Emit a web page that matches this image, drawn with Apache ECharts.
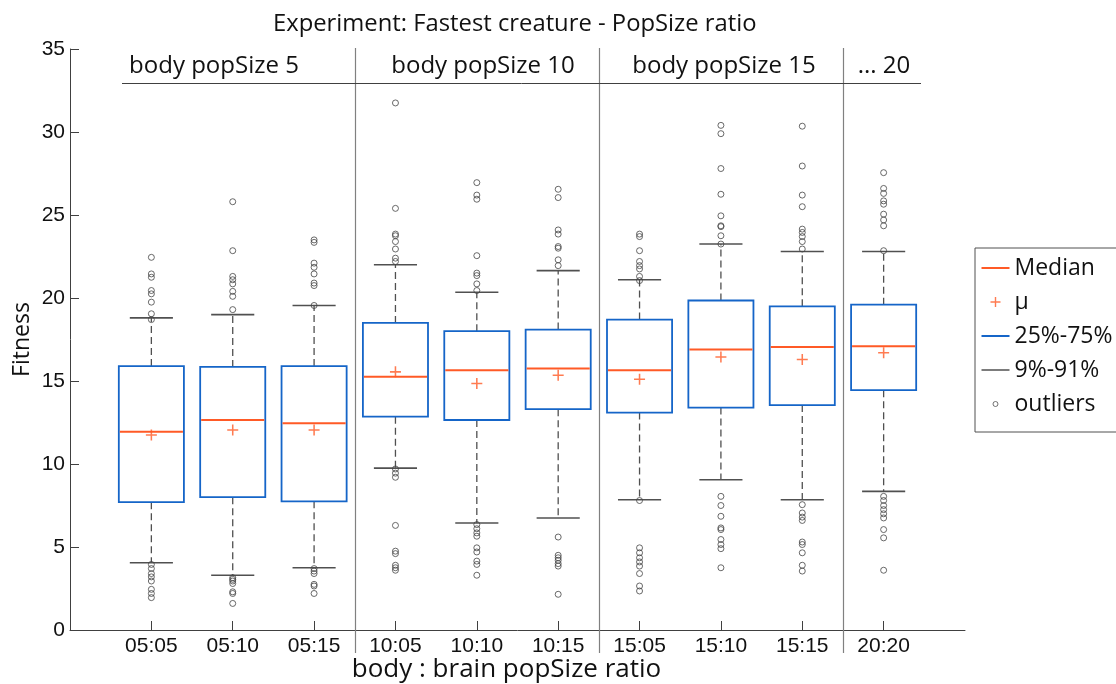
<!DOCTYPE html>
<html>
<head>
<meta charset="utf-8">
<script src="https://cdn.jsdelivr.net/npm/echarts@6/dist/echarts.min.js"></script>
<style>
  html, body { margin: 0; padding: 0; background: #fff; }
  #chart { width: 1116px; height: 684px; }
</style>
</head>
<body>
<div id="chart"></div>
<script>
// ---------------- DATA ----------------
const categories = ['05:05', '05:10', '05:15', '10:05', '10:10', '10:15', '15:05', '15:10', '15:15', '20:20'];
const groupLabels = ['body popSize 5', 'body popSize 10', 'body popSize 15', '... 20'];
const groupSizes = [3, 3, 3, 1];

const q1        = [7.70, 8.00, 7.75, 12.85, 12.65, 13.30, 13.10, 13.40, 13.55, 14.45];
const median    = [11.95, 12.65, 12.45, 15.25, 15.65, 15.75, 15.65, 16.90, 17.05, 17.10];
const q3        = [15.90, 15.85, 15.90, 18.50, 18.00, 18.10, 18.70, 19.85, 19.50, 19.60];
const mean      = [11.75, 12.05, 12.05, 15.55, 14.85, 15.35, 15.10, 16.45, 16.30, 16.70];
const whiskLow  = [4.05, 3.30, 3.75, 9.75, 6.45, 6.75, 7.85, 9.05, 7.85, 8.35];
const whiskHigh = [18.80, 19.00, 19.55, 22.00, 20.35, 21.65, 21.10, 23.25, 22.80, 22.80];

const outliers = [
  [22.45, 21.45, 21.25, 20.45, 20.25, 19.75, 19.05, 18.70, 3.95, 3.70, 3.40, 3.20, 2.95, 2.45, 2.20, 1.95],
  [25.80, 22.85, 21.30, 21.10, 20.85, 20.40, 20.10, 19.30, 3.15, 3.05, 2.95, 2.80, 2.30, 2.20, 1.60],
  [23.50, 23.35, 22.10, 21.85, 21.45, 20.90, 20.75, 19.55, 3.70, 3.55, 3.40, 2.75, 2.65, 2.20],
  [31.75, 25.40, 23.85, 23.75, 23.40, 22.95, 22.40, 22.20, 9.70, 9.45, 9.20, 6.30, 4.75, 4.60, 3.90, 3.75, 3.60],
  [26.95, 26.20, 25.95, 22.55, 21.50, 21.35, 20.85, 20.45, 6.35, 6.10, 5.85, 5.65, 4.95, 4.70, 4.15, 3.95, 3.30],
  [26.55, 26.05, 24.10, 23.85, 23.10, 23.00, 22.30, 21.95, 5.60, 4.50, 4.35, 4.20, 4.00, 3.85, 2.15],
  [23.85, 23.70, 22.85, 22.20, 21.95, 21.75, 21.30, 21.05, 7.80, 4.95, 4.65, 4.35, 4.10, 3.85, 3.40, 2.65, 2.35],
  [30.40, 29.90, 27.80, 26.25, 24.95, 24.35, 24.30, 23.75, 23.25, 8.05, 7.50, 6.85, 6.15, 6.05, 5.45, 5.15, 4.90, 3.75],
  [30.35, 27.95, 26.20, 25.50, 24.15, 23.95, 23.70, 23.40, 22.95, 7.55, 7.05, 6.80, 6.60, 5.30, 5.15, 4.65, 3.90, 3.55],
  [27.55, 26.60, 26.30, 25.85, 25.65, 25.05, 24.70, 24.35, 22.85, 8.05, 7.80, 7.50, 7.25, 7.00, 6.75, 6.05, 5.55, 3.60]
];

const yTicks = [0, 5, 10, 15, 20, 25, 30, 35];

// ---------------- STYLE / LAYOUT ----------------
const BLUE = '#1565C8';
const ORANGE = '#FF5A26';
const GRAY = '#505050';
const SEP = '#808080';
const BOX_W = 0.8;
const CAP_W = 0.53;

const boxData = categories.map((c, i) => [i + 1, q1[i], median[i], q3[i], whiskLow[i], whiskHigh[i]]);
const meanData = categories.map((c, i) => [i + 1, mean[i]]);
const outlierData = [];
outliers.forEach((arr, i) => arr.forEach(v => outlierData.push([i + 1, v])));
const sepData = [];
{ let acc = 0; for (let g = 0; g < groupSizes.length - 1; g++) { acc += groupSizes[g]; sepData.push([acc + 0.5]); } }

function crisp(v) { return Math.round(v) + 0.5; }

const chart = echarts.init(document.getElementById('chart'), null, { renderer: 'canvas' });

const option = {
  animation: false,
  backgroundColor: '#fff',
  title: {
    text: 'Experiment: Fastest creature - PopSize ratio',
    left: 268, top: 7,
    textStyle: { fontFamily: 'Open Sans', fontSize: 23.8, fontWeight: 'normal', color: '#111' }
  },
  grid: { left: 70, right: 151, top: 49, bottom: 54, containLabel: false, outerBoundsMode: 'none' },
  xAxis: {
    type: 'value', min: 0, max: 11,
    splitLine: { show: false },
    axisLine: { lineStyle: { color: '#404040', width: 1 } },
    axisTick: { inside: true, length: 9, customValues: categories.map((c, i) => i + 1), lineStyle: { color: '#404040' } },
    axisLabel: {
      customValues: categories.map((c, i) => i + 1),
      formatter: v => categories[Math.round(v) - 1] || '',
      fontFamily: 'Liberation Sans', fontSize: 21, color: '#111', margin: 6
    },
    name: 'body : brain popSize ratio', nameLocation: 'middle', nameGap: 27, nameMoveOverlap: false,
    nameTextStyle: { fontFamily: 'Open Sans', fontSize: 26, color: '#111', padding: [0, 22, 0, 0] }
  },
  yAxis: {
    type: 'value', min: 0, max: 35, interval: 5,
    splitLine: { show: false },
    axisLine: { show: true, lineStyle: { color: '#404040', width: 1 } },
    axisTick: { show: true, inside: true, length: 9, lineStyle: { color: '#404040' } },
    axisLabel: { fontFamily: 'Liberation Sans', fontSize: 21, color: '#111', margin: 5,
      formatter: v => yTicks.includes(v) ? String(v) : '' },
    name: 'Fitness', nameLocation: 'middle', nameRotate: 90, nameGap: 36, nameMoveOverlap: false,
    nameTextStyle: { fontFamily: 'Open Sans', fontSize: 23, color: '#111' }
  },
  legend: {
    orient: 'vertical', left: 975, top: 248,
    itemWidth: 28, itemHeight: 14, itemGap: 8,
    padding: [7, 60, 15, 6],
    borderColor: '#505050', borderWidth: 1, backgroundColor: '#fff',
    selectedMode: false,
    textStyle: { fontFamily: 'Open Sans', fontSize: 23, color: '#111', lineHeight: 26 },
    data: [
      { name: 'Median', icon: 'path://M0,0M28,14M0,6H28V8H0Z', itemStyle: { color: ORANGE, borderWidth: 0 } },
      { name: 'μ', icon: 'path://M0,0M28,14M9,6.3H19V7.7H9Z M13.3,2H14.7V12H13.3Z', itemStyle: { color: ORANGE, borderWidth: 0 } },
      { name: '25%-75%', icon: 'path://M0,0M28,14M0,6H28V8H0Z', itemStyle: { color: BLUE, borderWidth: 0 } },
      { name: '9%-91%', icon: 'path://M0,0M28,14M0,6.25H28V7.75H0Z', itemStyle: { color: GRAY, borderWidth: 0 } },
      { name: 'outliers', icon: 'path://M0,0M28,14M14,4.5A2.5,2.5 0 1,1 13.99,4.5Z', itemStyle: { color: 'rgba(0,0,0,0)', borderColor: GRAY, borderWidth: 1 } }
    ]
  },
  graphic: [
    { type: 'line', shape: { x1: 122, y1: 83.5, x2: 921, y2: 83.5 }, style: { stroke: '#404040', lineWidth: 1 }, z: 10 },
    { type: 'text', x: 214, y: 66, style: { text: groupLabels[0], align: 'center', verticalAlign: 'middle', font: '24px "Open Sans"', fill: '#111' }, z: 10 },
    { type: 'text', x: 483, y: 66, style: { text: groupLabels[1], align: 'center', verticalAlign: 'middle', font: '24px "Open Sans"', fill: '#111' }, z: 10 },
    { type: 'text', x: 724, y: 66, style: { text: groupLabels[2], align: 'center', verticalAlign: 'middle', font: '24px "Open Sans"', fill: '#111' }, z: 10 },
    { type: 'text', x: 884, y: 66, style: { text: groupLabels[3], align: 'center', verticalAlign: 'middle', font: '24px "Open Sans"', fill: '#111' }, z: 10 }
  ],
  series: [
    {
      name: 'separators', type: 'custom', silent: true, data: sepData,
      encode: { x: 0 },
      renderItem: (params, api) => {
        const x = api.value(0);
        const top = api.coord([x, 35]);
        const bot = api.coord([x, 0]);
        const px = crisp(top[0]);
        return { type: 'line', shape: { x1: px, y1: top[1] - 1, x2: px, y2: bot[1] + 23 }, style: { stroke: SEP, lineWidth: 1.2 } };
      }
    },
    {
      name: '9%-91%', type: 'custom', data: boxData, itemStyle: { color: GRAY },
      encode: { x: 0, y: [1, 2, 3, 4, 5] },
      renderItem: (params, api) => {
        const x = api.value(0);
        const pQ1 = api.coord([x, api.value(1)]);
        const pQ3 = api.coord([x, api.value(3)]);
        const pLo = api.coord([x, api.value(4)]);
        const pHi = api.coord([x, api.value(5)]);
        const cw = api.size([CAP_W, 0])[0];
        const cx = pQ1[0];
        const dashed = { stroke: GRAY, lineWidth: 1.3, lineDash: [7, 4], fill: null };
        const solid = { stroke: GRAY, lineWidth: 1.6, fill: null };
        return { type: 'group', children: [
          { type: 'line', shape: { x1: cx, y1: pQ3[1], x2: cx, y2: pHi[1] }, style: dashed },
          { type: 'line', shape: { x1: cx, y1: pQ1[1], x2: cx, y2: pLo[1] }, style: dashed },
          { type: 'line', shape: { x1: cx - cw / 2, y1: pHi[1], x2: cx + cw / 2, y2: pHi[1] }, style: solid },
          { type: 'line', shape: { x1: cx - cw / 2, y1: pLo[1], x2: cx + cw / 2, y2: pLo[1] }, style: solid }
        ] };
      }
    },
    {
      name: '25%-75%', type: 'custom', data: boxData, itemStyle: { color: BLUE },
      encode: { x: 0, y: [1, 3] },
      renderItem: (params, api) => {
        const x = api.value(0);
        const pQ1 = api.coord([x, api.value(1)]);
        const pQ3 = api.coord([x, api.value(3)]);
        const w = api.size([BOX_W, 0])[0];
        return { type: 'rect', shape: { x: pQ1[0] - w / 2, y: pQ3[1], width: w, height: pQ1[1] - pQ3[1] },
          style: { fill: '#fff', stroke: BLUE, lineWidth: 1.8 } };
      }
    },
    {
      name: 'Median', type: 'custom', data: boxData, itemStyle: { color: ORANGE },
      encode: { x: 0, y: 2 },
      renderItem: (params, api) => {
        const x = api.value(0);
        const p = api.coord([x, api.value(2)]);
        const w = api.size([BOX_W, 0])[0];
        return { type: 'line', shape: { x1: p[0] - w / 2 + 1, y1: p[1], x2: p[0] + w / 2 - 1, y2: p[1] },
          style: { stroke: ORANGE, lineWidth: 2 } };
      }
    },
    {
      name: 'μ', type: 'scatter', data: meanData,
      symbol: 'path://M4.3,0H5.7V10H4.3Z M0,4.3H10V5.7H0Z', symbolSize: 11,
      itemStyle: { color: ORANGE }, z: 5
    },
    {
      name: 'outliers', type: 'scatter', data: outlierData,
      symbol: 'circle', symbolSize: 6,
      itemStyle: { color: 'rgba(0,0,0,0)', borderColor: '#454545', borderWidth: 1 }, z: 4
    }
  ]
};

chart.setOption(option);
</script>
</body>
</html>
